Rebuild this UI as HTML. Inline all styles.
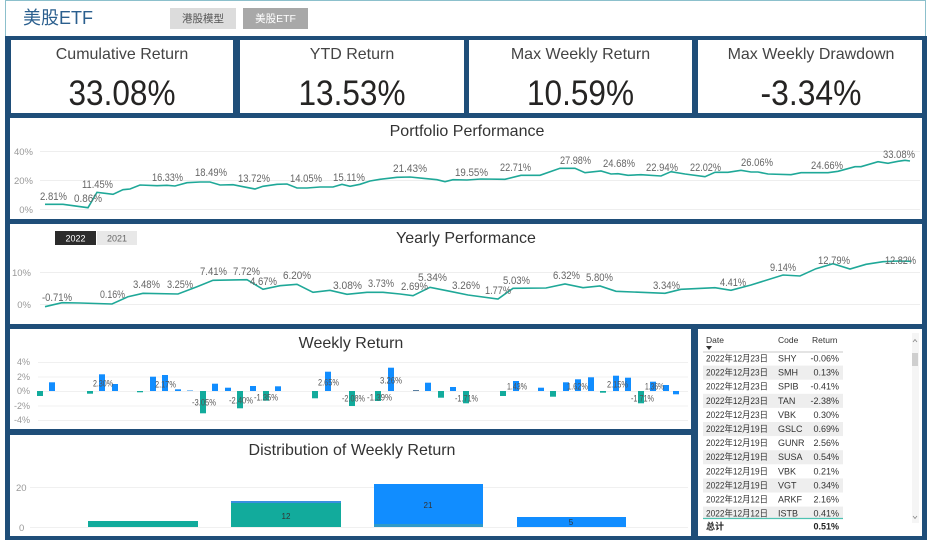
<!DOCTYPE html>
<html><head><meta charset="utf-8"><style>
html,body{margin:0;padding:0;background:#fff;width:936px;height:545px;overflow:hidden}
svg{display:block}
text{font-family:"Liberation Sans","Noto Sans CJK SC",sans-serif}
</style></head><body>
<svg width="936" height="545" viewBox="0 0 936 545" xmlns="http://www.w3.org/2000/svg">
<rect x="0" y="0" width="936" height="545" fill="#fff"/>
<!-- header -->
<rect x="5.5" y="0.5" width="920" height="36" fill="#fff" stroke="#8cc0cc" stroke-width="1"/>
<text x="23" y="24" font-size="18" fill="#2b5f8e">美股ETF</text>
<rect x="170" y="8" width="66" height="21" fill="#dcdcdc"/>
<text x="203" y="22" font-size="10.5" fill="#555" text-anchor="middle">港股模型</text>
<rect x="243" y="8" width="65" height="21" fill="#a8a8a8"/>
<text x="275.5" y="22" font-size="10.5" fill="#fff" text-anchor="middle">美股ETF</text>
<!-- navy background -->
<rect x="5" y="36" width="922" height="504" fill="#1f4e79"/>
<!-- KPI cards -->
<rect x="11" y="40" width="222" height="73" fill="#fff"/>
<rect x="240" y="40" width="224" height="73" fill="#fff"/>
<rect x="469" y="40" width="223" height="73" fill="#fff"/>
<rect x="698" y="40" width="224" height="73" fill="#fff"/>
<g font-size="16" fill="#444" text-anchor="middle">
<text x="122" y="59">Cumulative Return</text>
<text x="352" y="59">YTD Return</text>
<text x="580.5" y="59">Max Weekly Return</text>
<text x="811" y="59">Max Weekly Drawdown</text>
</g>
<g font-size="35" fill="#252423" text-anchor="middle">
<text x="122" y="105" textLength="107" lengthAdjust="spacingAndGlyphs">33.08%</text>
<text x="352" y="105" textLength="107" lengthAdjust="spacingAndGlyphs">13.53%</text>
<text x="580.5" y="105" textLength="107" lengthAdjust="spacingAndGlyphs">10.59%</text>
<text x="811" y="105" textLength="101" lengthAdjust="spacingAndGlyphs">-3.34%</text>
</g>
<!-- Portfolio Performance -->
<rect x="10" y="118" width="912" height="101" fill="#fff"/>
<text x="467" y="136" font-size="16" fill="#333" text-anchor="middle">Portfolio Performance</text>
<g stroke="#eeeeee" stroke-width="1">
<line x1="40" y1="151.5" x2="920" y2="151.5"/>
<line x1="40" y1="180.5" x2="920" y2="180.5"/>
<line x1="40" y1="209.5" x2="920" y2="209.5"/>
</g>
<g font-size="9.5" fill="#999" text-anchor="end">
<text x="33" y="155">40%</text>
<text x="33" y="184">20%</text>
<text x="33" y="213">0%</text>
</g>
<polyline fill="none" stroke="#1fa898" stroke-width="1.6" points="45,204.3 63,204.3 88,207.7 97,192.3 113,194.3 123,189.7 130,189 140,185 157,185.7 167,185.3 175,186 187,182.7 200,182 210,182 220,185 233,184.7 243,186.7 255,189 263,186.3 277,184.3 287,184 297,188 307,188 320,187 333,187 342,184.3 350,186.3 360,184.3 370,181 380,179.3 397,177.3 410,177 423,178.3 437,179.7 445,181.7 453,179.7 467,180 481,179 505,179.3 521,175.3 540,175.3 560,168.3 575,168.3 585,172.7 601,171 611,174 618,173.7 628,175.3 641,174.7 661,176 671,171.7 685,174 705,176.7 715,172.3 728,172.3 741,170.3 751,172 758,172 768,174 791,174.7 801,172.7 828,172.7 838,171.3 855,166.7 861,166.7 878,161.7 888,163.3 898,161.3 905,160.3 910,161"/>
<g font-size="11" fill="#666" lengthAdjust="spacingAndGlyphs">
<text x="40" y="200" textLength="27" lengthAdjust="spacingAndGlyphs">2.81%</text>
<text x="74" y="202" textLength="28" lengthAdjust="spacingAndGlyphs">0.86%</text>
<text x="82" y="188" textLength="31" lengthAdjust="spacingAndGlyphs">11.45%</text>
<text x="152" y="181" textLength="31" lengthAdjust="spacingAndGlyphs">16.33%</text>
<text x="195" y="176" textLength="32" lengthAdjust="spacingAndGlyphs">18.49%</text>
<text x="238" y="182" textLength="32" lengthAdjust="spacingAndGlyphs">13.72%</text>
<text x="290" y="182" textLength="32" lengthAdjust="spacingAndGlyphs">14.05%</text>
<text x="333" y="181" textLength="32" lengthAdjust="spacingAndGlyphs">15.11%</text>
<text x="393" y="172" textLength="34" lengthAdjust="spacingAndGlyphs">21.43%</text>
<text x="455" y="176" textLength="33" lengthAdjust="spacingAndGlyphs">19.55%</text>
<text x="500" y="171" textLength="31" lengthAdjust="spacingAndGlyphs">22.71%</text>
<text x="560" y="164" textLength="31" lengthAdjust="spacingAndGlyphs">27.98%</text>
<text x="603" y="167" textLength="32" lengthAdjust="spacingAndGlyphs">24.68%</text>
<text x="646" y="171" textLength="32" lengthAdjust="spacingAndGlyphs">22.94%</text>
<text x="690" y="171" textLength="31" lengthAdjust="spacingAndGlyphs">22.02%</text>
<text x="741" y="166" textLength="32" lengthAdjust="spacingAndGlyphs">26.06%</text>
<text x="811" y="169" textLength="32" lengthAdjust="spacingAndGlyphs">24.66%</text>
<text x="883" y="158" textLength="32" lengthAdjust="spacingAndGlyphs">33.08%</text>
</g>
<!-- Yearly Performance -->
<rect x="10" y="224" width="912" height="100" fill="#fff"/>
<rect x="55" y="231" width="41" height="14" fill="#2b2b2b"/>
<text x="75.5" y="241.5" font-size="9" fill="#fff" text-anchor="middle">2022</text>
<rect x="97" y="231" width="40" height="14" fill="#e8e8e8"/>
<text x="117" y="241.5" font-size="9" fill="#666" text-anchor="middle">2021</text>
<text x="466" y="243" font-size="16" fill="#333" text-anchor="middle">Yearly Performance</text>
<g stroke="#eeeeee" stroke-width="1">
<line x1="40" y1="272.5" x2="920" y2="272.5"/>
<line x1="40" y1="304.5" x2="920" y2="304.5"/>
</g>
<g font-size="9.5" fill="#999" text-anchor="end">
<text x="31" y="276">10%</text>
<text x="31" y="308">0%</text>
</g>
<polyline fill="none" stroke="#1fa898" stroke-width="1.6" points="45,306.7 62,302.7 80,303 112,304 128,296.7 143,293.3 178,294 197,286.7 213,280.3 247,279.7 263,289.3 280,285.7 297,284.3 313,292.3 330,290.3 347,294.3 367,292.3 383,292.3 400,294 413,295.7 430,287.3 450,291.3 468,295 498,299 513,288.3 546,288 565,284 583,287.7 600,286 616,291.3 665,293.3 681,289.3 715,287.7 731,290.3 751,285 783,275 800,276 816,268.7 833,263.7 850,269 866,264.3 883,261.7 898,261 911,261.3"/>
<g font-size="11" fill="#666">
<text x="42" y="301" textLength="30" lengthAdjust="spacingAndGlyphs">-0.71%</text>
<text x="100" y="298" textLength="25" lengthAdjust="spacingAndGlyphs">0.16%</text>
<text x="133" y="288" textLength="27" lengthAdjust="spacingAndGlyphs">3.48%</text>
<text x="167" y="288" textLength="26" lengthAdjust="spacingAndGlyphs">3.25%</text>
<text x="200" y="275" textLength="27" lengthAdjust="spacingAndGlyphs">7.41%</text>
<text x="233" y="275" textLength="27" lengthAdjust="spacingAndGlyphs">7.72%</text>
<text x="250" y="285" textLength="27" lengthAdjust="spacingAndGlyphs">4.67%</text>
<text x="283" y="279" textLength="28" lengthAdjust="spacingAndGlyphs">6.20%</text>
<text x="333" y="289" textLength="29" lengthAdjust="spacingAndGlyphs">3.08%</text>
<text x="368" y="287" textLength="26" lengthAdjust="spacingAndGlyphs">3.73%</text>
<text x="401" y="290" textLength="27" lengthAdjust="spacingAndGlyphs">2.69%</text>
<text x="418" y="281" textLength="29" lengthAdjust="spacingAndGlyphs">5.34%</text>
<text x="452" y="289" textLength="28" lengthAdjust="spacingAndGlyphs">3.26%</text>
<text x="485" y="294" textLength="26" lengthAdjust="spacingAndGlyphs">1.77%</text>
<text x="503" y="284" textLength="27" lengthAdjust="spacingAndGlyphs">5.03%</text>
<text x="553" y="279" textLength="27" lengthAdjust="spacingAndGlyphs">6.32%</text>
<text x="586" y="281" textLength="27" lengthAdjust="spacingAndGlyphs">5.80%</text>
<text x="653" y="289" textLength="27" lengthAdjust="spacingAndGlyphs">3.34%</text>
<text x="720" y="286" textLength="26" lengthAdjust="spacingAndGlyphs">4.41%</text>
<text x="770" y="271" textLength="26" lengthAdjust="spacingAndGlyphs">9.14%</text>
<text x="818" y="264" textLength="32" lengthAdjust="spacingAndGlyphs">12.79%</text>
<text x="885" y="264" textLength="31" lengthAdjust="spacingAndGlyphs">12.82%</text>
</g>
<!-- Weekly Return -->
<rect x="10" y="329" width="681" height="100" fill="#fff"/>
<text x="351" y="348" font-size="16" fill="#333" text-anchor="middle">Weekly Return</text>
<g stroke="#f0f0f0" stroke-width="1">
<line x1="38" y1="362.5" x2="688" y2="362.5"/>
<line x1="38" y1="377" x2="688" y2="377"/>
<line x1="38" y1="391.5" x2="688" y2="391.5"/>
<line x1="38" y1="406" x2="688" y2="406"/>
<line x1="38" y1="420.5" x2="688" y2="420.5"/>
</g>
<g font-size="9" fill="#999" text-anchor="end">
<text x="30" y="365">4%</text>
<text x="30" y="380">2%</text>
<text x="30" y="394">0%</text>
<text x="30" y="409">-2%</text>
<text x="30" y="423">-4%</text>
</g>
<g fill="#118dff">
<rect x="49" y="382.3" width="6" height="8.7"/>
<rect x="99" y="374.3" width="6" height="16.7"/>
<rect x="112" y="384" width="6" height="7"/>
<rect x="150" y="376.7" width="6" height="14.3"/>
<rect x="162" y="375" width="6" height="16"/>
<rect x="175" y="389.3" width="6" height="1.7"/>
<rect x="187" y="390" width="6" height="1" fill="#8fc6f5"/>
<rect x="212" y="383.7" width="6" height="7.3"/>
<rect x="225" y="387.7" width="6" height="3.3"/>
<rect x="250" y="386" width="6" height="5"/>
<rect x="275" y="386.3" width="6" height="4.7"/>
<rect x="325" y="371.7" width="6" height="19.3"/>
<rect x="388" y="367.7" width="6" height="23.3"/>
<rect x="413" y="390" width="6" height="1" fill="#5a7fa0"/>
<rect x="425" y="382.7" width="6" height="8.3"/>
<rect x="450" y="387" width="6" height="4"/>
<rect x="513" y="381" width="6" height="10"/>
<rect x="538" y="387.7" width="6" height="3.3"/>
<rect x="563" y="382.3" width="6" height="8.7"/>
<rect x="575" y="379.3" width="6" height="11.7"/>
<rect x="588" y="377.3" width="6" height="13.7"/>
<rect x="613" y="375.7" width="6" height="15.3"/>
<rect x="625" y="377.7" width="6" height="13.3"/>
<rect x="650" y="381.7" width="6" height="9.3"/>
<rect x="663" y="385" width="6" height="6"/>
<rect x="673" y="391" width="6" height="3.3"/>
</g>
<g fill="#12ab9c">
<rect x="37" y="391" width="6" height="5"/>
<rect x="87" y="391" width="6" height="2.7"/>
<rect x="137" y="391" width="6" height="1.3"/>
<rect x="200" y="391" width="6" height="22.3"/>
<rect x="237" y="391" width="6" height="17.3"/>
<rect x="263" y="391" width="6" height="9.7"/>
<rect x="312" y="391" width="6" height="7.3"/>
<rect x="349" y="391" width="6" height="15"/>
<rect x="375" y="391" width="6" height="10"/>
<rect x="438" y="391" width="6" height="6.7"/>
<rect x="463" y="391" width="6" height="12.3"/>
<rect x="500" y="391" width="6" height="5"/>
<rect x="550" y="391" width="6" height="5.7"/>
<rect x="600" y="391" width="6" height="1.7"/>
<rect x="638" y="391" width="6" height="12.3"/>
</g>
<g font-size="9.5" fill="#555">
<text x="93" y="386.5" textLength="20" lengthAdjust="spacingAndGlyphs">2.30%</text>
<text x="155" y="387.5" textLength="21" lengthAdjust="spacingAndGlyphs">2.17%</text>
<text x="192" y="405.5" textLength="24" lengthAdjust="spacingAndGlyphs">-3.05%</text>
<text x="229" y="403.5" textLength="24" lengthAdjust="spacingAndGlyphs">-2.40%</text>
<text x="254" y="400.5" textLength="24" lengthAdjust="spacingAndGlyphs">-1.35%</text>
<text x="318" y="385.5" textLength="21" lengthAdjust="spacingAndGlyphs">2.65%</text>
<text x="342" y="401.5" textLength="23" lengthAdjust="spacingAndGlyphs">-2.08%</text>
<text x="367" y="400.5" textLength="25" lengthAdjust="spacingAndGlyphs">-1.39%</text>
<text x="380" y="383.5" textLength="22" lengthAdjust="spacingAndGlyphs">3.26%</text>
<text x="455" y="401.5" textLength="23" lengthAdjust="spacingAndGlyphs">-1.71%</text>
<text x="507" y="389.5" textLength="20" lengthAdjust="spacingAndGlyphs">1.43%</text>
<text x="567" y="389.5" textLength="21" lengthAdjust="spacingAndGlyphs">1.62%</text>
<text x="607" y="387.5" textLength="21" lengthAdjust="spacingAndGlyphs">2.15%</text>
<text x="631" y="401.5" textLength="23" lengthAdjust="spacingAndGlyphs">-1.71%</text>
<text x="645" y="389.5" textLength="19" lengthAdjust="spacingAndGlyphs">1.36%</text>
</g>
<!-- Distribution -->
<rect x="10" y="435" width="681" height="101" fill="#fff"/>
<text x="352" y="455" font-size="16" fill="#333" text-anchor="middle">Distribution of Weekly Return</text>
<g stroke="#f0f0f0" stroke-width="1">
<line x1="30" y1="487.5" x2="688" y2="487.5"/>
<line x1="30" y1="527.5" x2="688" y2="527.5"/>
</g>
<g font-size="9.5" fill="#999">
<text x="16" y="491">20</text>
<text x="19" y="531">0</text>
</g>
<rect x="88" y="521" width="110" height="6" fill="#12ab9c"/>
<rect x="231" y="503" width="110" height="24" fill="#12ab9c"/>
<rect x="231" y="501" width="110" height="2" fill="#3a8fe0"/>
<rect x="374" y="484" width="109" height="40" fill="#118dff"/>
<rect x="374" y="524" width="109" height="3" fill="#2f9ac8"/>
<rect x="517" y="517" width="109" height="10" fill="#118dff"/>
<g font-size="8" fill="#333" text-anchor="middle">
<text x="286" y="519">12</text>
<text x="428" y="508">21</text>
<text x="571" y="525">5</text>
</g>
<!-- Table -->
<rect x="698" y="329" width="224" height="207" fill="#fff"/>
<g font-size="8.5" fill="#333">
<text x="706" y="343">Date</text>
<text x="778" y="343">Code</text>
<text x="812" y="343">Return</text>
</g>
<polygon points="706,346 712,346 709,350" fill="#333"/>
<line x1="703" y1="352" x2="843" y2="352" stroke="#c8c8c8" stroke-width="1"/>
<g fill="#eeeeee">
<rect x="703" y="365.6" width="140" height="14.1"/>
<rect x="703" y="393.8" width="140" height="14.1"/>
<rect x="703" y="422" width="140" height="14.1"/>
<rect x="703" y="450.2" width="140" height="14.1"/>
<rect x="703" y="478.4" width="140" height="14.1"/>
<rect x="703" y="506.6" width="140" height="11.4"/>
</g>
<line x1="703" y1="518.5" x2="843" y2="518.5" stroke="#4fc2b2" stroke-width="1.2"/>
<g font-size="9" fill="#333">
<text x="706" y="361.5" textLength="62" lengthAdjust="spacingAndGlyphs">2022年12月23日</text><text x="778" y="361.5">SHY</text><text x="839" y="361.5" text-anchor="end">-0.06%</text>
<text x="706" y="375.6" textLength="62" lengthAdjust="spacingAndGlyphs">2022年12月23日</text><text x="778" y="375.6">SMH</text><text x="839" y="375.6" text-anchor="end">0.13%</text>
<text x="706" y="389.7" textLength="62" lengthAdjust="spacingAndGlyphs">2022年12月23日</text><text x="778" y="389.7">SPIB</text><text x="839" y="389.7" text-anchor="end">-0.41%</text>
<text x="706" y="403.8" textLength="62" lengthAdjust="spacingAndGlyphs">2022年12月23日</text><text x="778" y="403.8">TAN</text><text x="839" y="403.8" text-anchor="end">-2.38%</text>
<text x="706" y="417.9" textLength="62" lengthAdjust="spacingAndGlyphs">2022年12月23日</text><text x="778" y="417.9">VBK</text><text x="839" y="417.9" text-anchor="end">0.30%</text>
<text x="706" y="432" textLength="62" lengthAdjust="spacingAndGlyphs">2022年12月19日</text><text x="778" y="432">GSLC</text><text x="839" y="432" text-anchor="end">0.69%</text>
<text x="706" y="446.1" textLength="62" lengthAdjust="spacingAndGlyphs">2022年12月19日</text><text x="778" y="446.1">GUNR</text><text x="839" y="446.1" text-anchor="end">2.56%</text>
<text x="706" y="460.2" textLength="62" lengthAdjust="spacingAndGlyphs">2022年12月19日</text><text x="778" y="460.2">SUSA</text><text x="839" y="460.2" text-anchor="end">0.54%</text>
<text x="706" y="474.3" textLength="62" lengthAdjust="spacingAndGlyphs">2022年12月19日</text><text x="778" y="474.3">VBK</text><text x="839" y="474.3" text-anchor="end">0.21%</text>
<text x="706" y="488.4" textLength="62" lengthAdjust="spacingAndGlyphs">2022年12月19日</text><text x="778" y="488.4">VGT</text><text x="839" y="488.4" text-anchor="end">0.34%</text>
<text x="706" y="502.5" textLength="62" lengthAdjust="spacingAndGlyphs">2022年12月12日</text><text x="778" y="502.5">ARKF</text><text x="839" y="502.5" text-anchor="end">2.16%</text>
<text x="706" y="516.3" textLength="62" lengthAdjust="spacingAndGlyphs">2022年12月12日</text><text x="778" y="516.3">ISTB</text><text x="839" y="516.3" text-anchor="end">0.41%</text>
</g>
<g font-size="9" fill="#222" font-weight="bold">
<text x="706" y="529.5">总计</text>
<text x="839" y="529.5" text-anchor="end">0.51%</text>
</g>
<!-- scrollbar -->
<rect x="912" y="333" width="7" height="190" fill="#f5f5f5"/>
<rect x="912" y="353" width="6" height="13" fill="#cfcfcf"/>
<polyline points="913,342 915,339.5 917,342" fill="none" stroke="#888" stroke-width="0.8"/>
<polyline points="913,516 915,518.5 917,516" fill="none" stroke="#888" stroke-width="0.8"/>
</svg>
</body></html>
